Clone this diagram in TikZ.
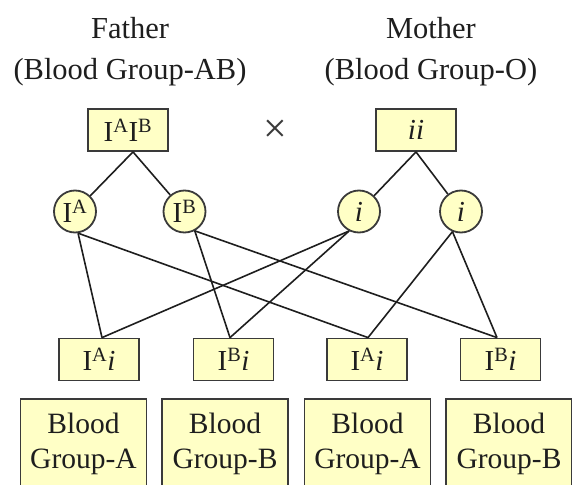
\documentclass[tikz,border=0pt]{standalone}
\usepackage{fontspec}
\setmainfont{Liberation Serif}
\usetikzlibrary{positioning}
\definecolor{paleyellow}{HTML}{FFFFC6}
\definecolor{edgegray}{HTML}{3A3A3A}
\definecolor{inkgray}{HTML}{1E1E1E}

\begin{document}
\begin{tikzpicture}[x=1pt, y=-1pt,
  title/.style={anchor=base, inner sep=0pt, text=inkgray, font=\fontsize{30.5}{35}\selectfont},
  geno/.style={draw=edgegray, line width=1.8pt, fill=paleyellow, minimum width=80pt, minimum height=42pt, inner sep=0pt, text=inkgray, font=\fontsize{29}{34}\selectfont},
  gamete/.style={circle, draw=edgegray, line width=1.8pt, fill=paleyellow, minimum size=42pt, inner sep=0pt, text=inkgray, font=\fontsize{29}{34}\selectfont},
  pheno/.style={draw=edgegray, line width=1.8pt, fill=paleyellow, minimum width=126pt, minimum height=89pt, inner sep=0pt, align=center, text=inkgray, font=\fontsize{29.5}{35}\selectfont},
  link/.style={line width=1.6pt, inkgray}]
  \useasboundingbox (0,0) rectangle (572,484);
  \clip (0,0) rectangle (572,484);

  % Parents
  \node[title] (fathername) at (130,39) {Father};
  \node[title] (fathergroup) at (130,80) {(Blood Group-AB)};
  \node[title] (mothername) at (431,39) {Mother};
  \node[title] (mothergroup) at (431,80) {(Blood Group-O)};

  \node[geno] (father) at (128,130) {I\textsuperscript{A}I\textsuperscript{B}};
  \node[geno] (mother) at (416,130) {\textit{ii}};
  \node[inner sep=0pt, text=edgegray, font=\fontsize{42}{44}\selectfont] (cross) at (275,131) {×};

  % Gametes
  \node[gamete] (ga) at (75,211.5) {I\textsuperscript{A}};
  \node[gamete] (gb) at (184.5,211.5) {I\textsuperscript{B}};
  \node[gamete] (gi1) at (359,211.5) {\textit{i}};
  \node[gamete] (gi2) at (461,211.5) {\textit{i}};

  \draw[link] ([xshift=5]father.south) -- (ga);
  \draw[link] ([xshift=5]father.south) -- (gb);
  \draw[link] (mother.south) -- (gi1);
  \draw[link] (mother.south) -- (gi2);

  % Offspring
  \foreach \n/\x/\px/\al in {1/99/83.5/A, 2/233.5/225/B, 3/367/367.5/A, 4/500.5/509/B} {
    \node[geno] (c\n) at (\x,359.5) {I\textsuperscript{\al}\textit{i}};
    \node[pheno] (p\n) at (\px,443.5) {Blood\\Group-\al};
  }

  % Crossing lines
  \foreach \from/\ang/\to/\dx in {ga/-82/c1/3, ga/-82/c3/1, gb/-62/c2/-3.5, gb/-62/c4/-3.5,
                                  gi1/-117/c1/3, gi1/-117/c2/-3.5, gi2/-113/c3/1, gi2/-113/c4/-3.5} {
    \draw[link] (\from.\ang) -- ([xshift=\dx]\to.north);
  }
\end{tikzpicture}
\end{document}
